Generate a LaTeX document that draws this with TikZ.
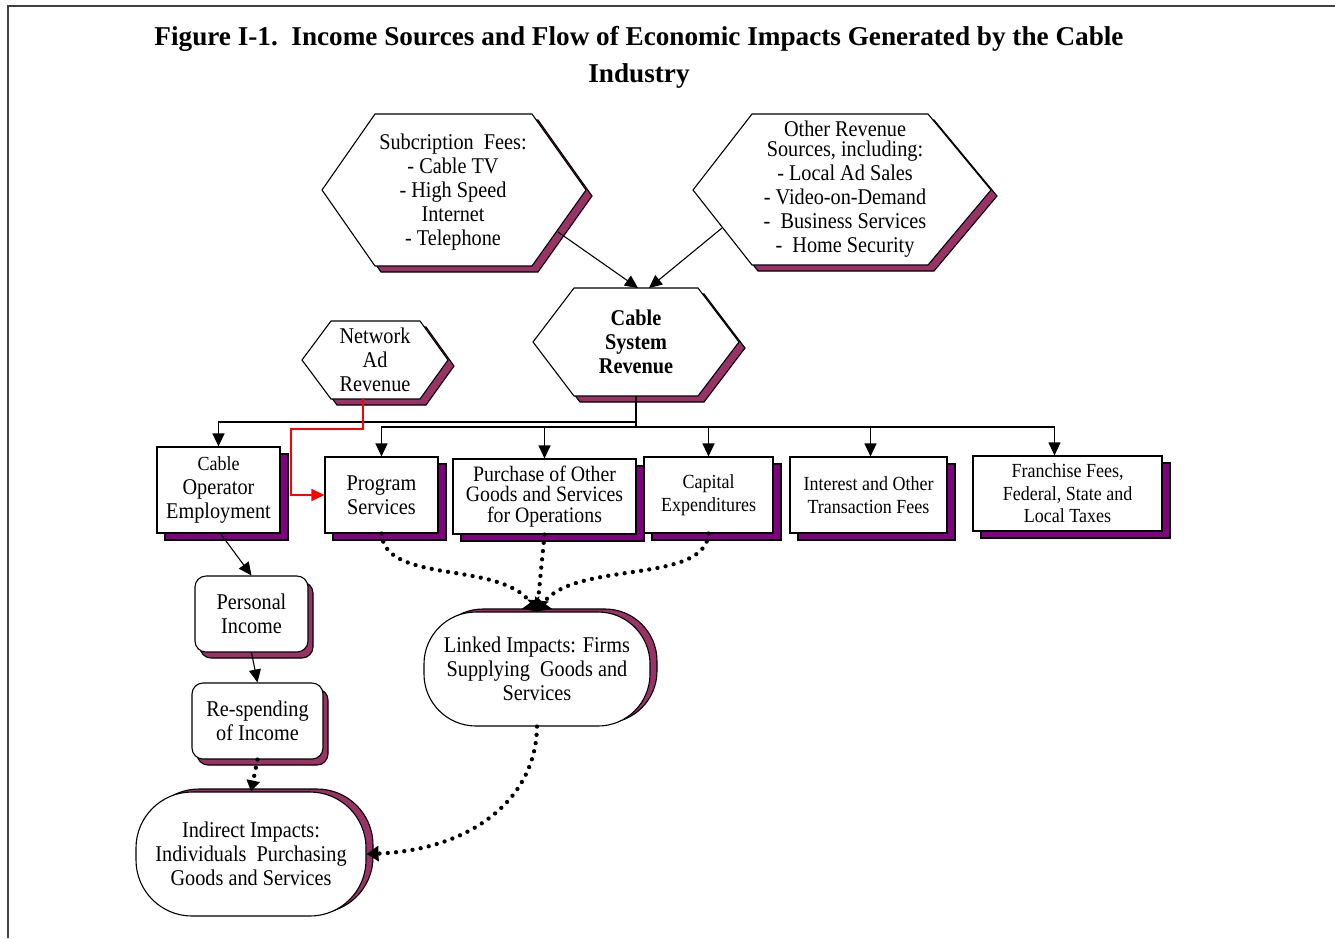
\documentclass[tikz,border=0pt]{standalone}
\usepackage{fontspec}
\setmainfont{Liberation Serif}[FakeStretch=0.9]
\newfontfamily\titlefont{Liberation Serif}
\usetikzlibrary{arrows.meta,shadows}
\definecolor{hexsh}{HTML}{993366}
\definecolor{boxsh}{HTML}{800080}
\definecolor{framec}{HTML}{404040}
\newcommand\bigtxt{\fontsize{22.5}{24}\selectfont}
\newcommand\smtxt{\fontsize{20}{22.5}\selectfont}
\newcommand\hexagonshape[7]{%
  \fill[hexsh,draw=black,line width=1.1pt,shift={(6,6)}] (#1,#6) -- (#2,#5) -- (#3,#5) -- (#4,#6) -- (#3,#7) -- (#2,#7) -- cycle;
  \draw[fill=white,line width=1.1pt] (#1,#6) -- (#2,#5) -- (#3,#5) -- (#4,#6) -- (#3,#7) -- (#2,#7) -- cycle;}
\tikzset{
  rbox/.style={draw, fill=white, line width=1.1pt, inner sep=0pt, align=center, font=\bigtxt,
    drop shadow={shadow xshift=8pt, shadow yshift=-7pt, fill=boxsh, draw=black, line width=1.1pt, opacity=1}},
  roundbox/.style={draw, fill=white, line width=1.1pt, inner sep=0pt, align=center, font=\bigtxt, rounded corners=11pt,
    drop shadow={shadow xshift=5pt, shadow yshift=-6pt, fill=hexsh, draw=black, line width=1.1pt, opacity=1}},
  pillbox/.style={draw, fill=white, line width=1.1pt, inner sep=0pt, align=center, font=\bigtxt,
    drop shadow={shadow xshift=7pt, shadow yshift=3pt, fill=hexsh, draw=black, line width=1.1pt, opacity=1}},
  htext/.style={align=center, inner sep=0pt, font=\bigtxt},
  arr/.style={line width=1.1pt, -{Triangle[length=13pt,width=12pt]}},
  redarr/.style={line width=1.1pt, red, -{Triangle[length=13pt,width=12pt]}},
  dotline/.style={line width=4.3pt, dash pattern=on 0pt off 8.3pt, line cap=round},
}
\begin{document}
\begin{tikzpicture}[x=1pt,y=-1pt]
\useasboundingbox (0,0) rectangle (1335,938);
\draw[framec,line width=1.5pt] (1335,6) -- (8,6) -- (8,938);

% title
\node[inner sep=0pt] (title) at (639,39) {\titlefont\bfseries\fontsize{27.2}{30}\selectfont Figure I-1.\ \ Income Sources and Flow of Economic Impacts Generated by the Cable};
\node[inner sep=0pt] (title2) at (639,76) {\titlefont\bfseries\fontsize{27.2}{30}\selectfont Industry};

% hexagons
\hexagonshape{322}{375}{532}{586}{114}{190}{266}
\node[htext] (subs) at (453,192) {Subcription\ \ Fees:\\- Cable TV\\- High Speed\\Internet\\- Telephone};
\hexagonshape{693}{752}{928}{991}{114}{190}{265}
\node[htext] (other) at (845,189) {Other Revenue\\[-4pt]Sources, including:\\- Local Ad Sales\\- Video-on-Demand\\-\ \ Business Services\\-\ \ Home Security};
\hexagonshape{533}{574}{698}{739}{288}{342}{396}
\node[htext, font=\bigtxt\bfseries] (csr) at (636,342) {Cable\\System\\Revenue};
\hexagonshape{302}{331}{420}{448}{321}{360}{399}
\node[htext] (net) at (375,360) {Network\\Ad\\Revenue};

% boxes
\node[rbox, minimum width=123pt, minimum height=86pt] (cop) at (218.5,490) {{\smtxt Cable}\\Operator\\Employment};
\node[rbox, minimum width=113pt, minimum height=76pt] (prog) at (381.5,495) {Program\\Services};
\node[rbox, minimum width=183pt, minimum height=75pt, font=\fontsize{22}{20.5}\selectfont] (purch) at (544.5,496.5) {Purchase of Other\\Goods and Services\\for Operations};
\node[rbox, minimum width=129pt, minimum height=76pt, font=\smtxt] (cap) at (708.5,495) {Capital\\Expenditures};
\node[rbox, minimum width=157pt, minimum height=76pt, font=\smtxt] (intr) at (868.5,495) {Interest and Other\\Transaction Fees};
\node[rbox, minimum width=189pt, minimum height=75pt, font=\smtxt] (fran) at (1067.5,493.5) {Franchise Fees,\\Federal,\ State and\\Local\ Taxes};

\node[roundbox, minimum width=113pt, minimum height=76pt] (pers) at (251.5,614) {Personal\\Income};
\node[roundbox, minimum width=131pt, minimum height=76pt] (resp) at (257.5,721) {Re-spending\\of Income};
\node[pillbox, rounded corners=52pt, minimum width=226pt, minimum height=114pt] (link) at (537,669) {Linked Impacts: Firms\\Supplying\ \ Goods and\\Services};
\node[pillbox, rounded corners=56pt, minimum width=230pt, minimum height=124pt] (ind) at (251,854) {Indirect Impacts:\\Individuals\ \ Purchasing\\Goods and Services};

% connectors
\coordinate (subout) at (558,232);
\coordinate (othout) at (722,228);
\coordinate (csrina) at (638,288);
\coordinate (csrinb) at (649,288);
\draw[arr] (subout) -- (csrina);
\draw[arr] (othout) -- (csrinb);

\coordinate (csrbot) at (636,396);
\coordinate (hubA) at (636,422);
\coordinate (hubB) at (636,427);
\draw[arr] (csrbot) -- (hubA) -| (cop.north);
\draw[arr] (csrbot) -- (hubB) -| (prog.north);
\draw[arr] (hubB) -| (purch.north);
\draw[arr] (hubB) -| (cap.north);
\draw[arr] (hubB) -| ([xshift=2pt]intr.north);
\draw[arr] (hubB) -| ([xshift=-13pt]fran.north);

\coordinate (netbot) at (363,399);
\coordinate (redturn) at (291,429);
\draw[redarr] (netbot) |- (redturn) |- (prog.west);

\draw[arr] ([xshift=2pt]cop.south) -- (pers.north);
\draw[arr] (pers.south) -- (resp.north);

\draw[dotline, -{Triangle[length=11pt,width=13pt]}] (resp.south) -- (ind.north);
\draw[dotline, -{Triangle[length=11pt,width=21pt]}] (prog.south) .. controls (385,585) and (500,560) .. (link.north);
\draw[dotline, -{Triangle[length=11pt,width=21pt]}] (purch.south) -- (link.north);
\draw[dotline, -{Triangle[length=11pt,width=21pt]}] (cap.south) .. controls (705,585) and (575,560) .. (link.north);
\draw[dotline, -{Triangle[length=12pt,width=15pt]}] (link.south) .. controls (536,800) and (470,850) .. (ind.east);
\end{tikzpicture}
\end{document}
